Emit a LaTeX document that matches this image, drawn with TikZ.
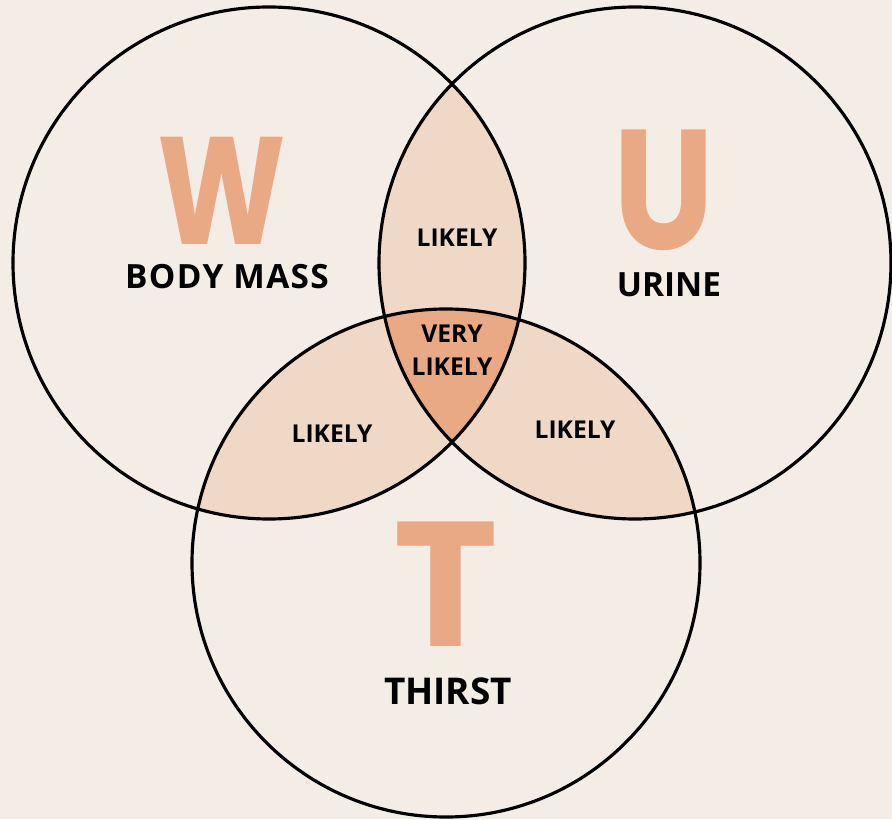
\documentclass[tikz,border=0pt]{standalone}
\usepackage{fontspec}
\setmainfont{Open Sans}
\newfontfamily\bigfont{Poppins}
\definecolor{bgcol}{HTML}{F4EDE6}
\definecolor{likelycol}{HTML}{F0D8C6}
\definecolor{peach}{HTML}{E9A985}

\begin{document}
\begin{tikzpicture}[x=0.02cm,y=0.02cm,
  ring/.style={draw=black,line width=1.8pt},
  letter/.style={text=peach,anchor=base,inner sep=0pt,text depth=0pt,
    font=\bigfont\bfseries\fontsize{#1}{#1}\selectfont},
  title/.style={anchor=base,inner sep=0pt,text depth=0pt,
    font=\bfseries\fontsize{#1}{#1}\selectfont},
  tag/.style={align=center,inner sep=0pt,font=\bfseries\fontsize{14}{18.7}\selectfont}]
  \fill[bgcol] (0,0) rectangle (892,819);
  \useasboundingbox (0,0) rectangle (892,819);
  \coordinate (cw) at (269,556);
  \coordinate (cu) at (635,556);
  \coordinate (ct) at (446,256);
  \begin{scope}
    \clip (cw) circle (256);
    \fill[likelycol] (cu) circle (256);
    \fill[likelycol] (ct) circle (254);
  \end{scope}
  \begin{scope}
    \clip (cu) circle (256);
    \fill[likelycol] (ct) circle (254);
  \end{scope}
  \begin{scope}
    \clip (cw) circle (256);
    \clip (cu) circle (256);
    \fill[peach] (ct) circle (254);
  \end{scope}
  \draw[ring] (cw) circle (256);
  \draw[ring] (cu) circle (256);
  \draw[ring] (ct) circle (254);
  \node[letter=87,xscale=0.8] (w) at (222,574) {W};
  \node[letter=97,xscale=0.84] (u) at (664,569) {U};
  \node[letter=101] (t) at (446,173) {T};
  \node[title=19] (mass) at (227,530) {\addfontfeature{LetterSpace=4}BODY MASS};
  \node[title=19] (urine) at (669,522) {URINE};
  \node[title=21] (thirst) at (448,115) {THIRST};
  \node[tag] (wu) at (457,581) {LIKELY};
  \node[tag] (wut) at (452,469) {VERY\\LIKELY};
  \node[tag] (wt) at (332,385) {LIKELY};
  \node[tag] (ut) at (575,389) {LIKELY};
\end{tikzpicture}
\end{document}
